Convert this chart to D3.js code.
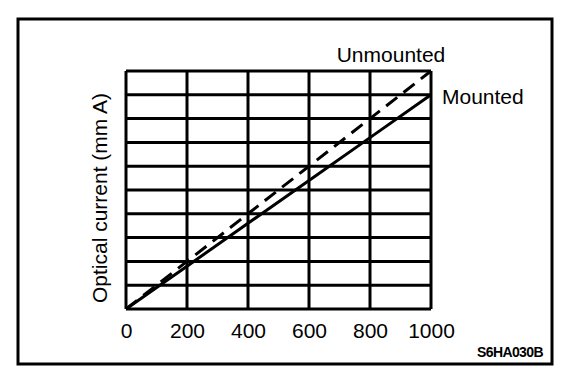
<!DOCTYPE html>
<html>
<head>
<meta charset="utf-8">
<script src="https://cdn.jsdelivr.net/npm/d3@7"></script>
<style>
  html, body { margin: 0; padding: 0; background: #fff; }
  svg { display: block; }
  text { font-family: "Liberation Sans", Arial, sans-serif; fill: #000; }
</style>
</head>
<body>
<svg id="chart" width="576" height="380"></svg>
<script>
// Data
const xValues = [0, 200, 400, 600, 800, 1000];
const mounted = [0, 1.8, 3.6, 5.4, 7.2, 9.0];
const unmounted = [0, 2, 4, 6, 8, 10];
const xTicks = [0, 200, 400, 600, 800, 1000];
const yGrid = [0, 1, 2, 3, 4, 5, 6, 7, 8, 9, 10];
const seriesNames = ["Mounted", "Unmounted"];
const yLabel = "Optical current (mm A)";
const code = "S6HA030B";

const svg = d3.select("#chart");
const W = 576, H = 380;

// Outer frame
svg.append("rect")
  .attr("x", 18).attr("y", 19).attr("width", 534).attr("height", 345)
  .attr("fill", "none").attr("stroke", "#000").attr("stroke-width", 3);

const plot = { left: 126, right: 431, top: 71, bottom: 309 };
const x = d3.scaleLinear().domain([0, 1000]).range([plot.left, plot.right]);
const y = d3.scaleLinear().domain([0, 10]).range([plot.bottom, plot.top]);

// Grid - horizontal
svg.append("g").selectAll("line").data(yGrid).join("line")
  .attr("x1", plot.left).attr("x2", plot.right)
  .attr("y1", d => y(d)).attr("y2", d => y(d))
  .attr("stroke", "#000").attr("stroke-width", 3);

// Grid - vertical
svg.append("g").selectAll("line").data(xTicks).join("line")
  .attr("x1", d => x(d)).attr("x2", d => x(d))
  .attr("y1", plot.top).attr("y2", plot.bottom)
  .attr("stroke", "#000").attr("stroke-width", 3);

// X axis labels via d3 axis
const xAxis = d3.axisBottom(x).tickValues(xTicks).tickSize(0).tickPadding(0).tickFormat(d3.format("d"));
const gx = svg.append("g").attr("transform", `translate(0, ${plot.bottom})`).call(xAxis);
gx.select(".domain").remove();
gx.selectAll("text")
  .attr("y", 29).attr("dy", 0)
  .style("font-family", "'Liberation Sans', Arial, sans-serif")
  .style("font-size", "21px").attr("fill", "#000");

// Lines
const line = d3.line().x((d, i) => x(xValues[i])).y(d => y(d));
svg.append("path").datum(unmounted)
  .attr("d", line).attr("fill", "none").attr("stroke", "#000")
  .attr("stroke-width", 3).attr("stroke-dasharray", "14,8");
svg.append("path").datum(mounted)
  .attr("d", line).attr("fill", "none").attr("stroke", "#000")
  .attr("stroke-width", 3);

// Series labels
svg.append("text").attr("x", x(1000) - 40).attr("y", y(10) - 9)
  .attr("text-anchor", "middle").style("font-size", "21px").text(seriesNames[1]);
svg.append("text").attr("x", x(1000) + 11).attr("y", y(9) + 9)
  .attr("text-anchor", "start").style("font-size", "21px").text(seriesNames[0]);

// Y label
svg.append("text")
  .attr("transform", `translate(107, ${(plot.top + plot.bottom) / 2 + 8}) rotate(-90)`)
  .attr("text-anchor", "middle").style("font-size", "21px").text(yLabel);

// Code
svg.append("text").attr("x", 543).attr("y", 357)
  .attr("text-anchor", "end").style("font-size", "14px").style("font-weight", "bold")
  .style("letter-spacing", "-0.6px").text(code);
</script>
</body>
</html>
